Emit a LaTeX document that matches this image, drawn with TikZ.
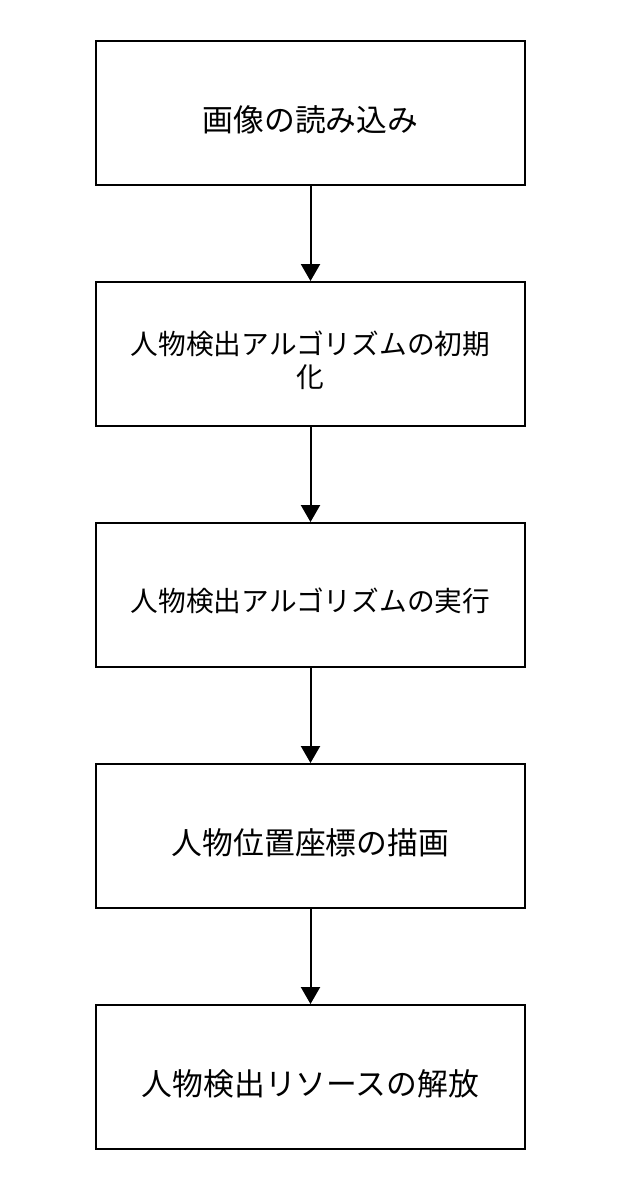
\documentclass[tikz,border=0pt]{standalone}
\usepackage{fontspec}
\newfontfamily\cjk{Noto Sans CJK JP}
\usetikzlibrary{arrows.meta}
\begin{document}
\begin{tikzpicture}[x=1pt,y=1pt,
  stepbox/.style={draw=black,line width=2pt,minimum width=429pt,minimum height=143.5pt,inner sep=0pt},
  bigtext/.style={inner sep=0pt,align=center,font=\cjk\fontsize{30.8}{36}\selectfont},
  smalltext/.style={inner sep=0pt,align=center,font=\cjk\fontsize{27.7}{33}\selectfont},
  flow/.style={draw=black,line width=2pt,-{Triangle[width=19pt,length=17pt]}}]
\useasboundingbox (0,0) rectangle (620,-1189);
\node[stepbox] (b1) at (310.5,-112.8) {};
\node[stepbox] (b2) at (310.5,-353.8) {};
\node[stepbox] (b3) at (310.5,-594.8) {};
\node[stepbox] (b4) at (310.5,-835.8) {};
\node[stepbox] (b5) at (310.5,-1076.8) {};
\node[bigtext] (t1) at ([yshift=-7pt]b1.center) {画像の読み込み};
\node[smalltext] (t2) at ([yshift=-6pt]b2.center) {人物検出アルゴリズムの初期\\化};
\node[smalltext] (t3) at ([yshift=-6pt]b3.center) {人物検出アルゴリズムの実行};
\node[bigtext] (t4) at ([yshift=-7pt]b4.center) {人物位置座標の描画};
\node[bigtext] (t5) at ([yshift=-7pt]b5.center) {人物検出リソースの解放};
\draw[flow] (b1.south) -- (b2.north);
\draw[flow] (b2.south) -- (b3.north);
\draw[flow] (b3.south) -- (b4.north);
\draw[flow] (b4.south) -- (b5.north);
\end{tikzpicture}
\end{document}
